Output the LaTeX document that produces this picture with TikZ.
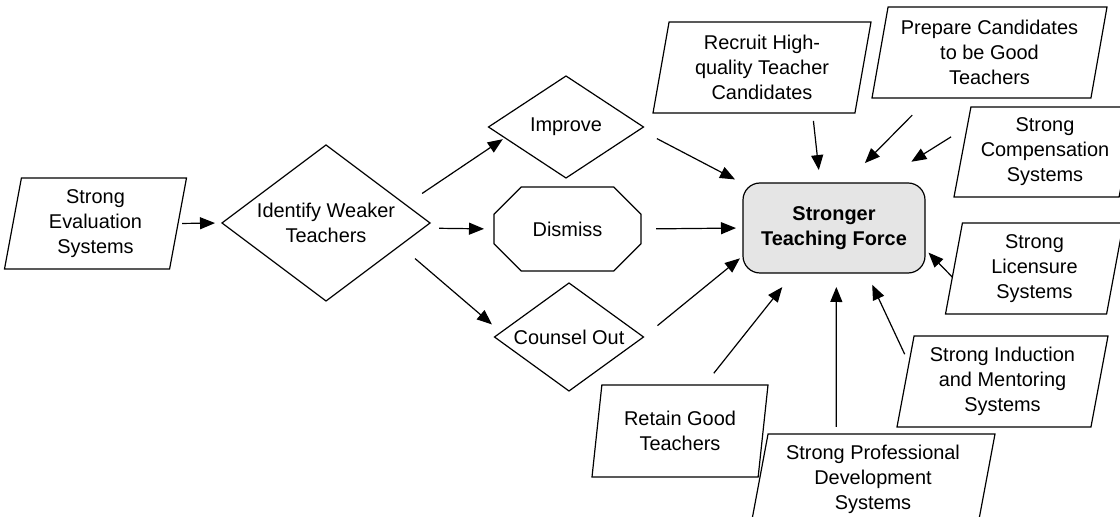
\documentclass[tikz,border=0pt]{standalone}
\usepackage{fontspec}
\setmainfont{Liberation Sans}
\usetikzlibrary{shapes.geometric,shapes.misc,arrows.meta}
\begin{document}
\begin{tikzpicture}[>={Triangle[length=15bp,width=12bp]},line width=1.2bp,
  every node/.style={font=\fontsize{20}{25}\selectfont,align=center,inner sep=0pt,outer sep=0pt},
  input/.style={draw,trapezium,trapezium left angle=76,trapezium right angle=104,trapezium stretches body,minimum height=91bp},
  choice/.style={draw,diamond},
  action/.style={draw,chamfered rectangle,chamfered rectangle xsep=24bp,chamfered rectangle ysep=20bp},
  goal/.style={draw,rectangle,rounded corners=17bp,fill=black!10,font=\fontsize{20}{25}\selectfont\bfseries}]
%%
\useasboundingbox (0bp,0bp) rectangle (1120bp,517bp);
\node (eval) at (95.5bp,293.5bp) [input,minimum width=182bp] {Strong\\Evaluation\\Systems};
\node (identify) at (326bp,294bp) [choice,aspect=1.33,minimum width=208bp,minimum height=156bp] {Identify Weaker\\Teachers};
\node (improve) at (566bp,390bp) [choice,aspect=1.5,minimum width=155bp,minimum height=102bp] {Improve};
\node (dismiss) at (567.5bp,288bp) [action,minimum width=147bp,minimum height=84bp] {Dismiss};
\node (counsel) at (569bp,180bp) [choice,aspect=1.4,minimum width=149bp,minimum height=108bp] {Counsel Out};
\node (tsf) at (834bp,289bp) [goal,minimum width=182bp,minimum height=90bp] {Stronger\\Teaching Force};
\node (recruit) at (762bp,449.5bp) [input,minimum width=218bp] {Recruit High-\\quality Teacher\\Candidates};
\node (prepare) at (989.5bp,464.5bp) [input,minimum width=235bp] {Prepare Candidates\\to be Good\\Teachers};
\node (comp) at (1045bp,365bp) [input,minimum width=182bp,minimum height=90bp] {Strong\\Compensation\\Systems};
\node (licen) at (1034.5bp,248.5bp) [input,minimum width=178bp] {Strong\\Licensure\\Systems};
\node (induct) at (1002.5bp,135.5bp) [input,minimum width=211bp] {Strong Induction\\and Mentoring\\Systems};
\node (prof) at (873bp,37.5bp) [input,minimum width=244bp] {Strong Professional\\Development\\Systems};
\node (retain) at (680bp,86bp) [input,minimum width=176bp,minimum height=92bp] {Retain Good\\Teachers};
%
\draw [->,shorten <=4bp,shorten >=7bp] (eval.east) -- (identify.west);
\draw [->,shorten <=20bp,shorten >=2.5bp] (identify.13.5) -- (improve.190);
\draw [->,shorten <=16bp,shorten >=10bp] (identify.-3.6) -- (dismiss.west);
\draw [->,shorten <=20bp,shorten >=12bp] (identify.-17) -- (counsel.176.9);
\draw [->,shorten <=19.5bp,shorten >=9bp] (improve.-2.2) -- (tsf.154.9);
\draw [->,shorten <=15bp,shorten >=7bp] (dismiss.east) -- (tsf.180.6);
\draw [->,shorten <=18bp,shorten >=4bp] (counsel.0.6) -- (tsf.197.4);
\draw [->,shorten <=8bp,shorten >=13bp] (recruit.-42.9) -- (tsf.107.7);
\draw [->,shorten <=24bp,shorten >=28bp] (prepare.217.4) -- (tsf.76.3);
\draw [->,shorten <=19bp,shorten >=40bp] (comp.162) -- (tsf.46.4);
\draw [->,shorten >=5bp] (licen.186.2) -- (tsf.-13.2);
\draw [->,shorten <=10bp,shorten >=13bp] (induct.169.2) -- (tsf.-54.6);
\draw [->,shorten <=7bp,shorten >=14bp] (prof.129.1) -- (tsf.-87.5);
\draw [->,shorten <=15bp,shorten >=18bp] (retain.62.1) -- (tsf.228.5);
%
\end{tikzpicture}
\end{document}
